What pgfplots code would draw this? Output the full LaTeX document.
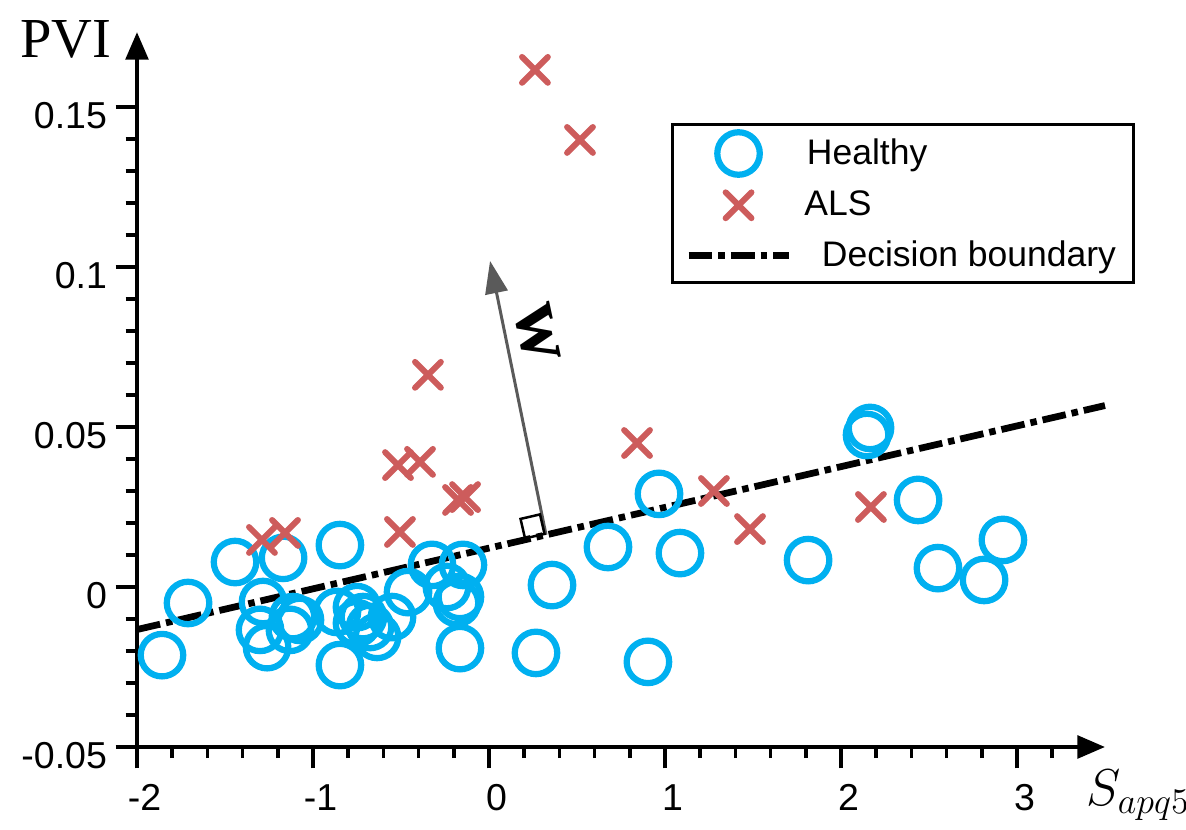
\documentclass[border=0pt]{standalone}
\usepackage[no-math]{fontspec}
\setmainfont{Liberation Sans}
\newfontfamily\seriffont{Liberation Serif}
\usepackage{pgfplots}
\usepackage{pgfplotstable}
\pgfplotsset{compat=1.18}
\usetikzlibrary{arrows.meta}
\definecolor{healthy}{RGB}{0,176,240}
\definecolor{als}{RGB}{205,92,92}
\definecolor{wgray}{RGB}{90,90,90}

\pgfplotsset{
  markleg/.style={legend image code/.code={\draw[##1, mark repeat=2, mark phase=2] plot coordinates {(0pt,0pt) (20pt,0pt) (40pt,0pt)};}},
  lineleg/.style={legend image code/.code={\draw[##1] (0pt,0pt) -- (40pt,0pt);}},
}

\pgfplotstableread{
x y
-1.858 -0.0213
-1.710 -0.0050
-1.443 0.0078
-1.170 0.0091
-1.284 -0.0047
-1.301 -0.0134
-1.261 -0.0188
-1.131 -0.0134
-1.114 -0.0094
-1.074 -0.0103
-0.847 0.0131
-0.847 -0.0244
-0.864 -0.0078
-0.750 -0.0063
-0.716 -0.0094
-0.676 -0.0125
-0.636 -0.0156
-0.750 -0.0113
-0.551 -0.0094
-0.460 -0.0016
-0.324 0.0069
-0.148 0.0069
-0.239 0.0000
-0.182 -0.0050
-0.165 -0.0031
-0.165 -0.0191
0.267 -0.0206
0.358 0.0006
0.676 0.0125
0.903 -0.0234
0.966 0.0291
1.085 0.0106
1.813 0.0084
2.165 0.0497
2.148 0.0475
2.438 0.0272
2.551 0.0059
2.813 0.0022
2.920 0.0147
}\healthydata

\pgfplotstableread{
x y
0.261 0.1616
0.517 0.1397
-0.347 0.0663
-0.517 0.0381
-0.392 0.0391
-0.506 0.0172
-0.176 0.0272
-0.136 0.0281
-1.290 0.0147
-1.159 0.0169
0.841 0.0450
1.278 0.0300
1.483 0.0181
2.170 0.0250
}\alsdata

\begin{document}
\begin{tikzpicture}
\useasboundingbox (0,0) rectangle (474.4pt,332pt);
\begin{axis}[
  at={(54.8pt,33.2pt)}, anchor=south west,
  x=70.4pt, y=1280pt,
  xmin=-2, xmax=3.5, ymin=-0.05, ymax=0.1734,
  axis lines=left,
  axis line style={line width=1.6pt, black, -{Triangle[length=11pt,width=9pt]}},
  clip=false,
  xtick={-2,-1,0,1,2,3}, xticklabels={-2,-1,0,1,2,3},
  ytick={-0.05,0,0.05,0.1,0.15}, yticklabels={-0.05,0,0.05,0.1,0.15},
  minor xtick={-1.8,-1.6,-1.4,-1.2,-0.8,-0.6,-0.4,-0.2,0.2,0.4,0.6,0.8,1.2,1.4,1.6,1.8,2.2,2.4,2.6,2.8,3.2},
  minor ytick={-0.04,-0.03,-0.02,-0.01,0.01,0.02,0.03,0.04,0.06,0.07,0.08,0.09,0.11,0.12,0.13,0.14},
  tick align=outside,
  major tick length=8.5pt, minor tick length=4.5pt,
  tick style={line width=1.5pt, black},
  tick label style={font=\fontsize{15}{18}\selectfont},
  xticklabel style={xshift=3pt, yshift=-3pt},
  yticklabel style={yshift=-3.6pt},
  every axis x label/.style={at={(axis description cs:0.972,-0.0825)}, anchor=base west, font=\fontsize{22.5}{26}\selectfont},
  every axis y label/.style={at={(axis description cs:-0.0258,0.965)}, anchor=base east, inner sep=0pt, font=\fontsize{22.6}{26}\selectfont\seriffont},
  xlabel={$S_{apq5}$},
  ylabel={PVI},
  legend style={at={(axis description cs:0.5517,0.8727)}, anchor=north west, draw=black, line width=1.3pt,
    font=\fontsize{14.2}{17}\selectfont, inner xsep=5pt, inner ysep=3pt, row sep=4.5pt, column sep=0pt},
  legend cell align=left,
]
\addplot[only marks, mark=o, mark size=8.5pt, color=healthy, line width=2.5pt, markleg]
  table[x=x,y=y] {\healthydata};
\addlegendentry{\hspace{4pt}Healthy}
\addplot[only marks, mark=x, mark size=7.3pt, color=als, line width=2.4pt, line cap=round, markleg]
  table[x=x,y=y] {\alsdata};
\addlegendentry{\hspace{3pt}ALS}
\addplot[black, line width=2.7pt, dash pattern=on 9.5pt off 2.4pt on 2.6pt off 2.4pt, lineleg]
  coordinates {(-2,-0.0133) (3.5,0.0567)};
\addlegendentry{\hspace{10pt}Decision boundary}
\draw[wgray, line width=1.2pt, -{Triangle[length=13pt,width=9pt]}] (axis cs:0.324,0.0163) -- (axis cs:0.006,0.1019);
\node[draw=black, line width=1pt, rotate=13, minimum size=8pt, inner sep=0pt, anchor=south east] at (axis cs:0.324,0.0163) {};
\node[rotate=-78, font=\seriffont\bfseries\fontsize{32}{36}\selectfont] at (axis cs:0.273,0.0794) {w};
\end{axis}
\end{tikzpicture}
\end{document}
